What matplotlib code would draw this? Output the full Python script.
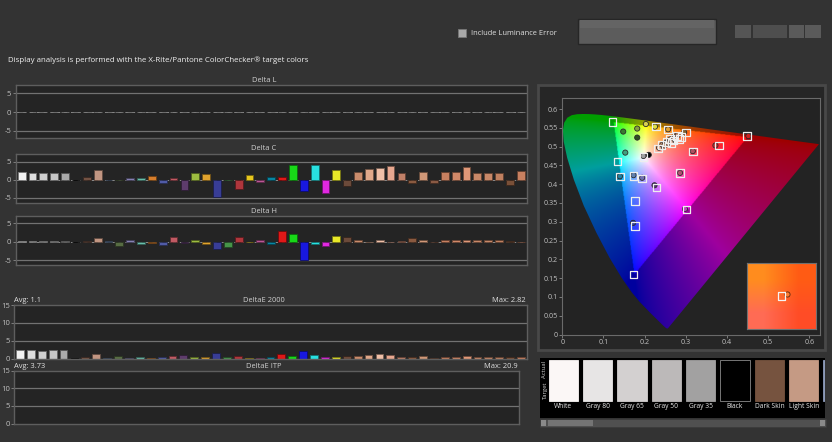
import numpy as np
import matplotlib
matplotlib.use('Agg')
import matplotlib.pyplot as plt
from matplotlib.patches import Rectangle, Polygon
from matplotlib.path import Path
from matplotlib.colors import to_rgb

plt.rcParams['font.family'] = ['Open Sans', 'DejaVu Sans']

W, H = 832, 442

# ColorChecker patches, in chart order
patch_colors = [
    '#f2f2f2', '#dedede', '#d0d0d0', '#c6c6c6', '#aaaaaa', '#101010',
    '#735243', '#c29682', '#627a9d', '#576c43', '#8580b1', '#67bdaa',
    '#d67e2c', '#505ba6', '#c15a63', '#5e3c6c', '#9dbc40', '#e0a32e',
    '#383d96', '#469449', '#af363c', '#e7c71f', '#bb5695', '#0885a1',
    '#e01818', '#18d818', '#1818e0', '#28e0e0', '#e028e0', '#e8e828',
    '#6b4a3a', '#c98b6b', '#e0a88a', '#f0c0a8', '#e8a890', '#c08068',
    '#8a5a40', '#d09878', '#8a5a44', '#c88060', '#d08868', '#e09878',
    '#c88868', '#c88868', '#c08060', '#7a5038', '#c88060',
]

delta_l = [0.0] * 47
delta_c = [2.2, 2.0, 1.85, 2.0, 1.9, 0.05, 0.8, 2.6, 0.05, 0.05, 0.45, 0.55,
           1.0, -0.8, 0.5, -2.9, 1.9, 1.6, -4.7, 0.05, -2.5, 1.4, -0.6, 0.7,
           0.7, 4.2, -3.1, 4.2, -3.7, 2.7, -1.7, 2.2, 3.1, 3.3, 3.8, 1.85,
           -0.9, 2.2, -0.9, 2.2, 2.2, 3.5, 2.0, 2.0, 2.0, -1.5, 2.5]
delta_h = [0.1, 0.1, 0.1, 0.2, 0.2, 0.05, 0.1, 0.9, 0.2, -1.2, 0.5, -0.6,
           -0.2, -1.0, 1.2, -0.4, 0.5, -0.6, -2.0, -1.5, 1.2, 0.05, 0.4, -0.6,
           2.9, 2.1, -5.0, -0.6, -1.2, 1.6, 1.2, 0.4, 0.05, 0.4, 0.05, 0.1,
           1.0, 0.4, 0.05, 0.4, 0.4, 0.6, 0.4, 0.4, 0.4, 0.3, 0.05]
delta_e2000 = [2.5, 2.4, 2.2, 2.4, 2.4, 0.05, 0.3, 1.2, 0.1, 0.6, 0.2, 0.4,
               0.2, 0.5, 0.6, 1.0, 0.4, 0.4, 1.5, 0.4, 0.8, 0.1, 0.1, 0.5,
               1.2, 0.7, 2.0, 1.1, 0.4, 0.4, 0.6, 0.6, 1.1, 1.3, 1.0, 0.4,
               0.3, 0.6, 0.1, 0.5, 0.5, 0.8, 0.5, 0.5, 0.5, 0.3, 0.5]
e2000_avg, e2000_max = '1.1', '2.82'
itp_avg, itp_max = '3.73', '20.9'

# CIE 1931 spectral locus (x, y), 380..700 nm
locus_x = [0.1741, 0.1733, 0.1726, 0.1714, 0.1689, 0.1644, 0.1566, 0.1440,
           0.1355, 0.1241, 0.1096, 0.0913, 0.0687, 0.0454, 0.0235, 0.0082,
           0.0039, 0.0139, 0.0389, 0.0743, 0.1142, 0.1547, 0.1929, 0.2296,
           0.2658, 0.3016, 0.3373, 0.3731, 0.4087, 0.4441, 0.4788, 0.5125,
           0.5448, 0.5752, 0.6029, 0.6270, 0.6658, 0.6915, 0.7079, 0.7190,
           0.7260, 0.7300, 0.7334, 0.7347]
locus_y = [0.0050, 0.0048, 0.0048, 0.0051, 0.0069, 0.0109, 0.0177, 0.0297,
           0.0399, 0.0578, 0.0868, 0.1327, 0.2007, 0.2950, 0.4127, 0.5384,
           0.6548, 0.7502, 0.8120, 0.8338, 0.8262, 0.8059, 0.7816, 0.7543,
           0.7243, 0.6923, 0.6589, 0.6245, 0.5896, 0.5547, 0.5202, 0.4866,
           0.4544, 0.4242, 0.3965, 0.3725, 0.3340, 0.3083, 0.2920, 0.2809,
           0.2740, 0.2700, 0.2666, 0.2653]
gamut_u = [0.4507, 0.1250, 0.1754]
gamut_v = [0.5229, 0.5625, 0.1579]

target_u = [0.122, 0.2275, 0.2575, 0.300, 0.449, 0.381, 0.317, 0.197, 0.134,
            0.140, 0.173, 0.194, 0.286, 0.229, 0.177, 0.302, 0.176, 0.173,
            0.232, 0.241, 0.253, 0.262, 0.270, 0.278, 0.290, 0.265, 0.285]
target_v = [0.566, 0.553, 0.546, 0.537, 0.528, 0.503, 0.487, 0.472, 0.460,
            0.420, 0.422, 0.415, 0.430, 0.391, 0.355, 0.333, 0.288, 0.160,
            0.495, 0.504, 0.513, 0.520, 0.516, 0.528, 0.526, 0.510, 0.520]
actual_u = [0.148, 0.182, 0.203, 0.182, 0.153, 0.197, 0.210, 0.140, 0.173,
            0.194, 0.224, 0.286, 0.298, 0.172, 0.372, 0.317, 0.452, 0.296,
            0.225, 0.257, 0.235, 0.243, 0.250, 0.257, 0.262, 0.268, 0.274,
            0.280, 0.265, 0.272, 0.255, 0.248]
actual_v = [0.540, 0.548, 0.560, 0.524, 0.484, 0.475, 0.478, 0.421, 0.424,
            0.417, 0.397, 0.430, 0.334, 0.297, 0.503, 0.488, 0.528, 0.538,
            0.553, 0.546, 0.497, 0.505, 0.510, 0.514, 0.519, 0.524, 0.527,
            0.530, 0.515, 0.520, 0.508, 0.503]
actual_colors = ['#3a7a30', '#88a040', '#d8d050', '#305020', '#40a080',
                 '#a0a0a0', '#000000', '#2080a0', '#6080b0', '#7070b0',
                 '#503070', '#b05070', '#c040c0', '#3040a0', '#c03030',
                 '#b05060', '#d02020', '#806030', '#e0e040', '#e0a030',
                 '#e8b8a0', '#c89070', '#f0c8b0', '#8a5a40', '#d8a080',
                 '#e8b090', '#7a5038', '#c08060', '#f0c0a8', '#d09070',
                 '#e0a888', '#c89878']
sel_target = (0.2900, 0.5260)
sel_actual = (0.2906, 0.5263)

swatch_names = ['White', 'Gray 80', 'Gray 65', 'Gray 50', 'Gray 35', 'Black',
                'Dark Skin', 'Light Skin', 'Blue Sky']
swatch_colors = ['#fbf7f6', '#e7e5e5', '#d3d0d0', '#bcb9b9', '#a2a1a1',
                 '#000000', '#76533f', '#c59a84', '#8c9ab8']


def fbox(x0, y0, x1, y1):
    return [x0 / W, 1 - y1 / H, (x1 - x0) / W, (y1 - y0) / H]


def frect(x0, y0, x1, y1, **kw):
    fig.patches.append(Rectangle((x0 / W, 1 - y1 / H), (x1 - x0) / W,
                                 (y1 - y0) / H, transform=fig.transFigure,
                                 zorder=-1, **kw))


def ftext(x, y, s, **kw):
    fig.text(x / W, 1 - y / H, s, **kw)


fig = plt.figure(figsize=(W / 100, H / 100), dpi=100, facecolor='#333333')

# header
ftext(8, 60, 'Display analysis is performed with the X-Rite/Pantone ColorChecker\u00ae target colors',
      fontsize=5.7, color='#f0f0f0', va='center')
frect(458, 29, 466, 37, facecolor='#a8a8a8', edgecolor='#777777', lw=0.6)
ftext(471, 33.5, 'Include Luminance Error', fontsize=5.4, color='#e0e0e0', va='center')
frect(578, 19, 716, 44, facecolor='#5c5c5c', edgecolor='#262626', lw=1)
frect(580, 20, 714, 28, facecolor='#646464', edgecolor='none')
frect(735, 25, 751, 38, facecolor='#555555', edgecolor='none')
frect(753, 25, 787, 38, facecolor='#4e4e4e', edgecolor='none')
frect(789, 25, 804, 38, facecolor='#5a5a5a', edgecolor='none')
frect(805, 25, 821, 38, facecolor='#5a5a5a', edgecolor='none')

idx = np.arange(len(patch_colors))


def bar_edges(vals):
    return ['#7a7a7a' if v == 0 else tuple(c * 0.5 for c in to_rgb(col))
            for v, col in zip(vals, patch_colors)]


def style_axes(ax):
    ax.set_facecolor('#242424')
    for s in ax.spines.values():
        s.set_color('#5e5e5e')
        s.set_linewidth(1)
    ax.tick_params(colors='#8a8a8a', labelcolor='#c0c0c0', labelsize=5.5,
                   length=2, width=0.6, pad=1)
    ax.set_xticks([])


def delta_panel(box, vals, title, ylim, title_y):
    ax = fig.add_axes(fbox(*box))
    style_axes(ax)
    ax.axhline(0, color='#8a8a8a', lw=0.7, ls=(0, (3, 4)), zorder=1)
    for g in (-5, 5):
        ax.axhline(g, color='#727272', lw=0.9, zorder=1)
    ax.bar(idx, vals, width=0.72, color=patch_colors, edgecolor=bar_edges(vals),
           linewidth=0.6, zorder=2)
    ax.set_xlim(-0.57, 46.53)
    ax.set_ylim(*ylim)
    ax.set_yticks([5, 0, -5])
    ax.set_yticklabels(['5', '0', '-5'])
    ftext(264, title_y, title, fontsize=5.4, color='#d0d0d0', ha='center', va='center')
    return ax


delta_panel((15.5, 85, 526.5, 138), delta_l, 'Delta L', (-6.86, 7.2), 80)
delta_panel((15.5, 154, 526.5, 203), delta_c, 'Delta C', (-6.4, 7.1), 149)
delta_panel((15.5, 216, 526.5, 265), delta_h, 'Delta H', (-6.3, 7.0), 211)


def de_panel(box, vals, title, avg, mx, text_y):
    ax = fig.add_axes(fbox(*box))
    style_axes(ax)
    for g in (5, 10):
        ax.axhline(g, color='#727272', lw=0.9, zorder=1)
    if vals is not None:
        ax.bar(idx, vals, width=0.72, color=patch_colors,
               edgecolor=bar_edges(vals), linewidth=0.6, zorder=2)
    ax.set_xlim(-0.55, 46.5)
    ax.set_ylim(0, 15)
    ax.set_yticks([0, 5, 10, 15])
    ax.set_yticklabels(['0', '5', '10', '15'])
    ftext(box[0], text_y, 'Avg: ' + avg, fontsize=5.4, color='#e0e0e0', va='center')
    ftext(264, text_y, title, fontsize=5.4, color='#d0d0d0', ha='center', va='center')
    ftext(box[2] - 1, text_y, 'Max: ' + mx, fontsize=5.4, color='#e0e0e0',
          ha='right', va='center')


de_panel((14, 305, 526.5, 358.5), delta_e2000, 'DeltaE 2000', e2000_avg, e2000_max, 300.5)
de_panel((14, 370.5, 518.5, 423.5), None, 'DeltaE ITP', itp_avg, itp_max, 366)

# CIE u'v' panel
frect(538, 85, 825, 350, facecolor='#262626', edgecolor='#484848', lw=2)
ax = fig.add_axes(fbox(562.3, 98.3, 820, 334.5))
ax.set_facecolor('#232323')
for s in ax.spines.values():
    s.set_color('#6a6a6a')
    s.set_linewidth(0.8)
ax.tick_params(colors='#8a8a8a', labelcolor='#c0c0c0', labelsize=5.2,
               length=2, width=0.6, pad=1)

lx = np.array(locus_x)
ly = np.array(locus_y)
den = -2 * lx + 12 * ly + 3
locus_uv = np.column_stack([4 * lx / den, 9 * ly / den])

xmax, ymax = 0.626, 0.6285
n = 420
uu, vv = np.meshgrid(np.linspace(0, xmax, n), np.linspace(0, ymax, n))
d = 6 * uu - 16 * vv + 12
cx = 9 * uu / d
cy = np.maximum(4 * vv / d, 1e-4)
XYZ = np.stack([cx / cy, np.ones_like(cx), (1 - cx - cy) / cy], axis=-1)
M = np.array([[3.2406, -1.5372, -0.4986],
              [-0.9689, 1.8758, 0.0415],
              [0.0557, -0.2040, 1.0570]])
rgb = np.clip(XYZ @ M.T, 0, None)
rgb = rgb / np.maximum(rgb.max(axis=-1, keepdims=True), 1e-9)
rgb = rgb ** (1 / 1.5)
tri = Path(np.column_stack([gamut_u, gamut_v]))
inside = tri.contains_points(np.column_stack([uu.ravel(), vv.ravel()])).reshape(uu.shape)
rgb[~inside] *= 0.62
im = ax.imshow(rgb, origin='lower', extent=[0, xmax, 0, ymax],
               interpolation='bilinear', aspect='auto', zorder=1)
im.set_clip_path(Polygon(locus_uv, closed=True, transform=ax.transData))

ax.scatter(actual_u, actual_v, s=14, c=actual_colors, edgecolors='#2a2a2a',
           linewidths=0.6, zorder=3)
ax.scatter(target_u, target_v, s=30, marker='s', facecolors='none',
           edgecolors='#eeeeee', linewidths=0.9, zorder=4)
ax.set_xlim(0, xmax)
ax.set_ylim(0, ymax)
ax.set_xticks([0, 0.1, 0.2, 0.3, 0.4, 0.5, 0.6])
ax.set_xticklabels(['0', '0.1', '0.2', '0.3', '0.4', '0.5', '0.6'])
yt = [0, 0.05, 0.1, 0.15, 0.2, 0.25, 0.3, 0.35, 0.4, 0.45, 0.5, 0.55, 0.6]
ax.set_yticks(yt)
ax.set_yticklabels(['0', '0.05', '0.1', '0.15', '0.2', '0.25', '0.3', '0.35',
                    '0.4', '0.45', '0.5', '0.55', '0.6'])

# zoomed inset around selected patch
ins = fig.add_axes(fbox(747, 263, 816, 329))
grad = np.array([[[1.0, 0.42, 0.33], [1.0, 0.30, 0.15]],
                 [[1.0, 0.55, 0.12], [1.0, 0.36, 0.08]]])
span = 0.004
ins.imshow(grad, origin='lower', interpolation='bilinear', aspect='auto',
           extent=[sel_target[0] - span, sel_target[0] + span,
                   sel_target[1] - span, sel_target[1] + span])
ins.scatter([sel_actual[0]], [sel_actual[1]], s=14, c='#ff7a30',
            edgecolors='#5a2a10', linewidths=0.6, zorder=3)
ins.scatter([sel_target[0]], [sel_target[1]], s=30, marker='s',
            facecolors='none', edgecolors='#f4f4f4', linewidths=0.9, zorder=4)
ins.set_xlim(sel_target[0] - span, sel_target[0] + span)
ins.set_ylim(sel_target[1] - span, sel_target[1] + span)
ins.set_xticks([])
ins.set_yticks([])
for s in ins.spines.values():
    s.set_color('#707070')
    s.set_linewidth(0.8)

# swatch strip
sw = fig.add_axes(fbox(540, 358, 825, 418))
sw.set_facecolor('#000000')
for s in sw.spines.values():
    s.set_visible(False)
sw_idx = np.arange(len(swatch_colors))
sw_edges = ['#8a8a8a' if c == '#000000' else c for c in swatch_colors]
sw.bar(sw_idx, 1.0, bottom=0.0, width=0.853, color=swatch_colors,
       edgecolor=sw_edges, linewidth=0.6)
x_right = 7.62
sw.set_xlim(-0.675, x_right)
sw.set_ylim(-0.425, 1.05)
for i, name in enumerate(swatch_names):
    if i + 0.5 < x_right:
        sw.text(i, -0.13, name, fontsize=4.8, color='#e8e8e8', ha='center',
                va='center')
sw.set_xticks([])
sw.set_yticks([])
ftext(545, 369, 'Actual', fontsize=4.2, color='#d0d0d0', rotation=90,
      ha='center', va='center')
ftext(545, 390, 'Target', fontsize=4.2, color='#d0d0d0', rotation=90,
      ha='center', va='center')

# scrollbar
frect(540, 419, 826, 427, facecolor='#505050', edgecolor='#3a3a3a', lw=0.5)
frect(548, 420, 593, 426, facecolor='#747474', edgecolor='none')
frect(541, 420, 546, 426, facecolor='#8a8a8a', edgecolor='none')
frect(820, 420, 825, 426, facecolor='#8a8a8a', edgecolor='none')

fig.savefig('out.png', dpi=100, facecolor=fig.get_facecolor())
